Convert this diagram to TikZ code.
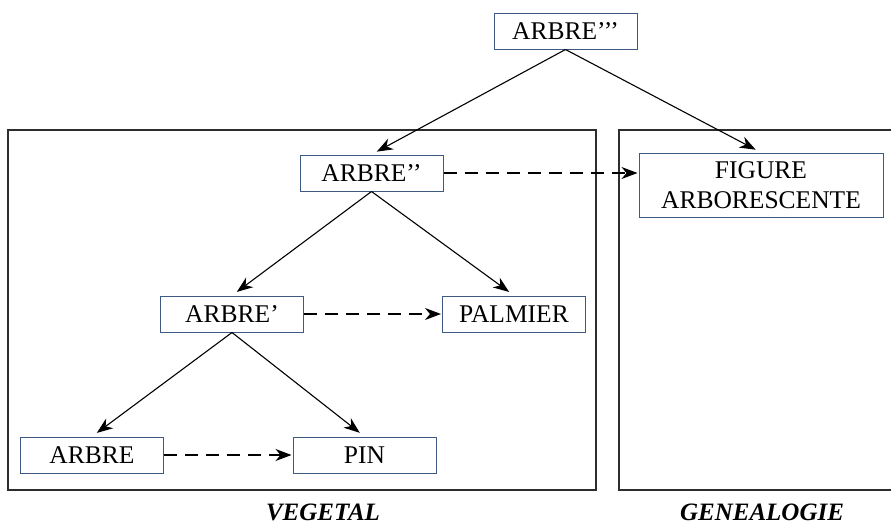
\documentclass[tikz,border=0pt]{standalone}
\usepackage{fontspec}
\setmainfont{Liberation Serif}
\usetikzlibrary{arrows.meta}

\definecolor{boxblue}{RGB}{62,90,130}
\definecolor{framegray}{RGB}{45,45,45}

\begin{document}
\begin{tikzpicture}[
    x=1pt, y=-1pt,
    box/.style={draw=boxblue, line width=1pt, minimum width=143pt, minimum height=36pt,
                inner sep=0pt, align=center, font=\fontsize{25.5}{30}\selectfont},
    cadre/.style={draw=framegray, line width=1.3pt},
    titre/.style={anchor=base, font=\fontsize{25}{30}\selectfont\bfseries\itshape},
    fleche/.style={-{Stealth[length=16pt,width=12pt,inset=5pt]}, line width=1.1pt, shorten >=6pt},
    pointille/.style={-{Stealth[length=16pt,width=12pt,inset=5pt]}, line width=1.1pt,
                      dash pattern=on 13pt off 8pt, shorten >=1pt},
]

% Page size
\useasboundingbox (0,0) rectangle (891,525);

% Frames
\draw[cadre] (8,130) rectangle (596,490);
\draw[cadre] (619,130) rectangle (893,490);

% Trees
\node[box] (arbreT) at (565.5,31) {ARBRE’’’};
\node[box] (arbreD) at (371.5,173) {ARBRE’’};
\node[box] (arbreU) at (232,314) {ARBRE’};
\node[box] (arbre) at (92,455) {ARBRE};
\node[box] (palmier) at (514,314) {PALMIER};
\node[box] (pin) at (364.5,455) {PIN};
\node[box, minimum width=244pt, minimum height=64pt] (figure) at (761,185) {FIGURE\\ARBORESCENTE};

% Frame labels
\node[titre] (vegetal) at (323,520) {VEGETAL};
\node[titre] (genealogie) at (762,520) {GENEALOGIE};

% Solid arrows
\draw[fleche] (arbreT.south) -- (arbreD.north);
\draw[fleche] (arbreT.south) -- (figure.north);
\draw[fleche] (arbreD.south) -- (arbreU.north);
\draw[fleche] (arbreD.south) -- (palmier.north);
\draw[fleche] (arbreU.south) -- (arbre.north);
\draw[fleche] (arbreU.south) -- (pin.north);

% Dashed arrows
\draw[pointille] (arbreD.east) -- (arbreD.east -| figure.west);
\draw[pointille] (arbreU.east) -- (palmier.west);
\draw[pointille] (arbre.east) -- (pin.west);

\end{tikzpicture}
\end{document}
